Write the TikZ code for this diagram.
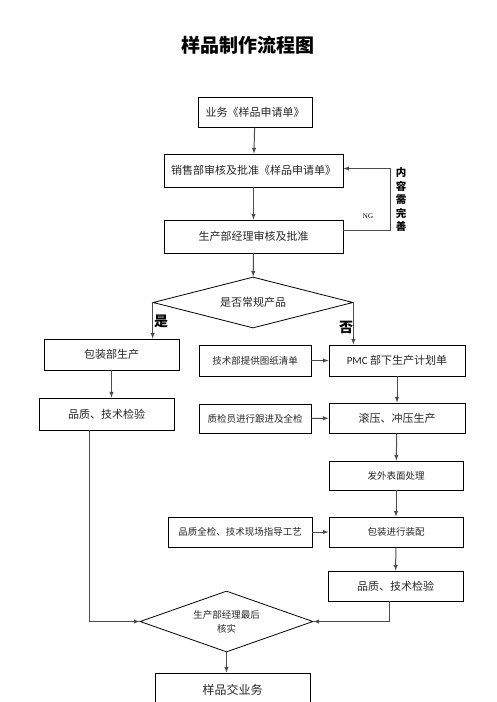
\documentclass[tikz,border=0pt]{standalone}
\usepackage{fontspec}
\setmainfont{Noto Sans CJK SC}
\newfontfamily\pmcfont{Carlito}
\newfontfamily\ngfont{Liberation Serif}
\usepackage{tikz}
\usetikzlibrary{shapes.geometric}

\begin{document}
\begin{tikzpicture}[x=1pt, y=-1pt, >=latex,
    box/.style={draw, line width=0.8pt, inner sep=0pt, font=\fontsize{11}{13}\selectfont, text=black!85},
    smallbox/.style={box, font=\fontsize{9.5}{11}\selectfont},
    decision/.style={draw, diamond, line width=0.8pt, inner sep=0pt, text=black!85},
    link/.style={->, draw=black!70, line width=1pt}]
        \useasboundingbox (0,0) rectangle (496,702);
        \node[font=\fontsize{19}{21}\selectfont\bfseries] (T) at (248,45) {样品制作流程图};
        \node[box, minimum width=114pt, minimum height=30pt] (A) at (255,112) {业务《样品申请单》};
        \node[box, minimum width=179pt, minimum height=33pt] (B) at (253.5,170.5) {销售部审核及批准《样品申请单》};
        \node[box, minimum width=179pt, minimum height=33pt] (C) at (253.5,236.5) {生产部经理审核及批准};
        \node[decision, aspect=3.9, minimum width=200pt, minimum height=51pt, font=\fontsize{11}{13}\selectfont] (D) at (253,302.5) {是否常规产品};
        \node[box, minimum width=135pt, minimum height=31pt] (E) at (111.5,354.5) {包装部生产};
        \node[box, minimum width=135pt, minimum height=32pt] (F) at (106.5,414) {品质、技术检验};
        \node[smallbox, minimum width=112pt, minimum height=31pt] (G) at (255,360.5) {技术部提供图纸清单};
        \node[box, minimum width=136pt, minimum height=31pt] (H) at (397,360.5) {{\pmcfont PMC} 部下生产计划单};
        \node[smallbox, minimum width=112pt, minimum height=29pt] (I) at (255,418.5) {质检员进行跟进及全检};
        \node[box, minimum width=136pt, minimum height=30pt] (J) at (397,418) {滚压、冲压生产};
        \node[smallbox, minimum width=134pt, minimum height=29pt] (K) at (396,475.5) {发外表面处理};
        \node[smallbox, minimum width=144pt, minimum height=30pt] (L) at (240,532) {品质全检、技术现场指导工艺};
        \node[smallbox, minimum width=134pt, minimum height=30pt] (M) at (396,532) {包装进行装配};
        \node[box, minimum width=135pt, minimum height=30pt] (N) at (395.5,586) {品质、技术检验};
        \node[decision, aspect=2.8, minimum width=173pt, minimum height=61pt, align=center, font=\fontsize{9.5}{14}\selectfont] (O) at (226.5,621.5) {生产部经理最后\\核实};
        \node[box, minimum width=155pt, minimum height=34pt, font=\fontsize{12}{14}\selectfont] (P) at (232.5,690) {样品交业务};
        % labels
        \node[font=\fontsize{14}{16}\selectfont\bfseries] (yes) at (161,321) {是};
        \node[font=\fontsize{14}{16}\selectfont\bfseries] (no) at (346,327) {否};
        \node[font=\ngfont\fontsize{7}{8}\selectfont] (ng) at (368,216) {NG};
        \node[font=\fontsize{10.5}{13.5}\selectfont\bfseries, align=center] (redo) at (401,200) {内\\容\\需\\完\\善};
        % connectors
        \path
          (A) edge [link] (B)
          (B) edge [link] (C)
          (C) edge [link] (D)
          (G) edge [link] (H)
          (H) edge [link] (J)
          (I) edge [link] (J)
          (J) edge [link] (K)
          (K) edge [link] (M)
          (L) edge [link] (M)
          (M) edge [link] (N)
          (E) edge [link] (E.south |- F.north)
          (O) edge [link] (O.south |- P.north);
        \draw[link] ([yshift=6pt]C.east) -- ++(47,0) |- ([yshift=2pt]B.east);
        \draw[link] (D.west) -- (D.west |- E.north);
        \draw[link] (D.east) -- (D.east |- H.north);
        \draw[link] ([xshift=-17pt]F.south) |- (O.west);
        \draw[link] ([xshift=-6pt]N.south) |- (O.east);
  \end{tikzpicture}
\end{document}
